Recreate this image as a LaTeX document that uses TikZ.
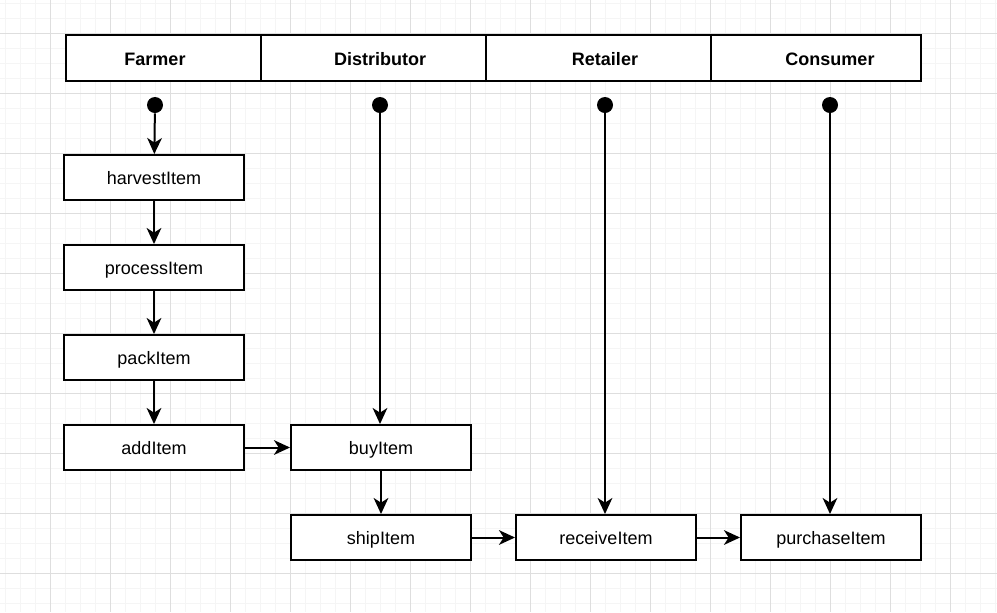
\documentclass[tikz,border=0pt]{standalone}
\usepackage{fontspec}
\setmainfont{Liberation Sans}
\usetikzlibrary{arrows.meta}
\definecolor{gridminor}{HTML}{F5F5F5}
\definecolor{gridmajor}{HTML}{DEDEDE}
\begin{document}
\begin{tikzpicture}[x=0.75pt,y=-0.75pt,
  cell/.style={draw=black,line width=1.5pt,fill=white,minimum height=34.5pt,inner sep=0pt},
  hdr/.style={font=\fontsize{13.5}{16}\selectfont\bfseries,inner sep=0pt,text height=11.6pt,text depth=1.4pt},
  act/.style={draw=black,line width=1.5pt,fill=white,minimum width=135pt,minimum height=33.75pt,inner sep=0pt,text height=11.6pt,text depth=1.4pt,font=\fontsize{13.5}{16}\selectfont},
  startdot/.style={circle,fill=black,minimum size=12pt,inner sep=0pt},
  flow/.style={draw=black,line width=1.5pt,-{Stealth[length=12pt,width=11pt,inset=3.5pt]}}]
\useasboundingbox (0,0) rectangle (997,612);
\fill[white] (0,0) rectangle (997,612);
% grid
\foreach \k in {0,...,66} \draw[gridminor,line width=0.75pt] (5+15*\k,0) -- (5+15*\k,612);
\foreach \k in {0,...,40} \draw[gridminor,line width=0.75pt] (0,3+15*\k) -- (997,3+15*\k);
\foreach \k in {0,...,15} \draw[gridmajor,line width=0.75pt] (50+60*\k,0) -- (50+60*\k,612);
\foreach \k in {0,...,9} \draw[gridmajor,line width=0.75pt] (0,33+60*\k) -- (997,33+60*\k);
% header
\node[cell,minimum width=146.25pt] (cF) at (163.5,58) {};
\node[cell,minimum width=168.75pt] (cD) at (373.5,58) {};
\node[cell,minimum width=168.75pt] (cR) at (598.5,58) {};
\node[cell,minimum width=157.5pt] (cC) at (816,58) {};
\node[hdr] (tF) at (155,59) {Farmer};
\node[hdr] (tD) at (380,59) {Distributor};
\node[hdr] (tR) at (605,59) {Retailer};
\node[hdr] (tC) at (830,59) {Consumer};
% start dots
\node[startdot] (dF) at (155,105) {};
\node[startdot] (dD) at (380,105) {};
\node[startdot] (dR) at (605,105) {};
\node[startdot] (dC) at (830,105) {};
% activities
\node[act] (harvest) at (154,177.5) {harvestItem};
\node[act] (process) at (154,267.5) {processItem};
\node[act] (pack) at (154,357.5) {packItem};
\node[act] (add) at (154,447.5) {addItem};
\node[act] (buy) at (381,447.5) {buyItem};
\node[act] (ship) at (381,537.5) {shipItem};
\node[act] (receive) at (606,537.5) {receiveItem};
\node[act] (purchase) at (831,537.5) {purchaseItem};
% connectors
\draw[flow] (dF) -- (harvest);
\draw[flow] (harvest) -- (process);
\draw[flow] (process) -- (pack);
\draw[flow] (pack) -- (add);
\draw[flow] (add) -- (buy);
\draw[flow] (dD) -- (dD |- buy.north);
\draw[flow] (buy) -- (ship);
\draw[flow] (ship) -- (receive);
\draw[flow] (dR) -- (dR |- receive.north);
\draw[flow] (receive) -- (purchase);
\draw[flow] (dC) -- (dC |- purchase.north);
\end{tikzpicture}
\end{document}
